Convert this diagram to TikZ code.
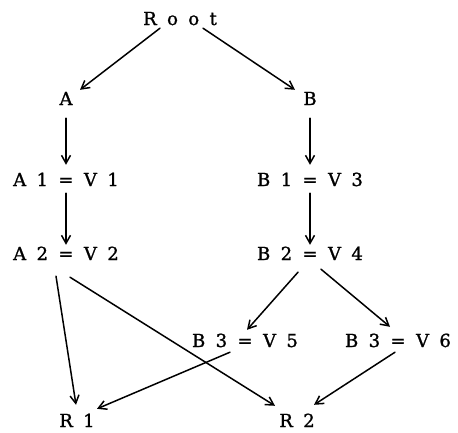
\documentclass[tikz,border=0pt]{standalone}
\usepackage{fontspec}
\usetikzlibrary{arrows.meta}
\newfontfamily\treefont[LetterSpace=26, FakeBold=1.2]{DejaVu Serif}
\begin{document}
\begin{tikzpicture}[x=1pt, y=1pt, line join=round, line cap=round, >={Straight Barb[length=8pt,width=9pt]},
		every node/.style={font=\fontsize{18}{20}\treefont, inner sep=3pt, text height=12pt, text depth=0pt},
		edge/.style={->, line width=1.5pt}]
				\useasboundingbox (0,0) rectangle (458,-432);
				% top of the tree
				\node (root) at (180,-19) {R o o t};
				\node (a) at (66,-99) {A};
				\node (b) at (310,-99) {B};
				% assignments
				\node (a1) at (66,-180) {A 1 = V 1};
				\node (b1) at (310,-180) {B 1 = V 3};
				\node (a2) at (66,-254) {A 2 = V 2};
				\node (b2) at (310,-254) {B 2 = V 4};
				\node (b5) at (245,-341) {B 3 = V 5};
				\node (b6) at (398,-341) {B 3 = V 6};
				% results
				\node (r1) at (77,-421) {R 1};
				\node (r2) at (297,-421) {R 2};
				\draw[edge] ([xshift=-20pt]root.south) -- ([xshift=14pt]a.north);
				\draw[edge] ([xshift=23pt]root.south) -- ([xshift=-15pt]b.north);
				\draw[edge, shorten <=10pt, shorten >=6pt] (a.south) -- (a1.north);
				\draw[edge, shorten <=10pt, shorten >=6pt] (b.south) -- (b1.north);
				\draw[edge, shorten <=4pt] (a1.south) -- (a2.north);
				\draw[edge, shorten <=4pt] (b1.south) -- (b2.north);
				\draw[edge] ([xshift=-10pt,yshift=-13pt]a2.south) -- ([xshift=-1pt,yshift=7pt]r1.north);
				\draw[edge] ([xshift=4pt,yshift=-14pt]a2.south) -- ([xshift=-22pt,yshift=6pt]r2.north);
				\draw[edge] ([xshift=-12pt,yshift=-9pt]b2.south) -- ([xshift=2pt,yshift=2pt]b5.north);
				\draw[edge] ([xshift=11pt,yshift=-6pt]b2.south) -- ([xshift=-8pt,yshift=5pt]b6.north);
				\draw[edge] ([xshift=-15pt,yshift=-2pt]b5.south) -- ([xshift=20pt,yshift=3pt]r1.north);
				\draw[edge] ([xshift=-3pt,yshift=-2pt]b6.south) -- ([xshift=17pt,yshift=7pt]r2.north);
\end{tikzpicture}
\end{document}
